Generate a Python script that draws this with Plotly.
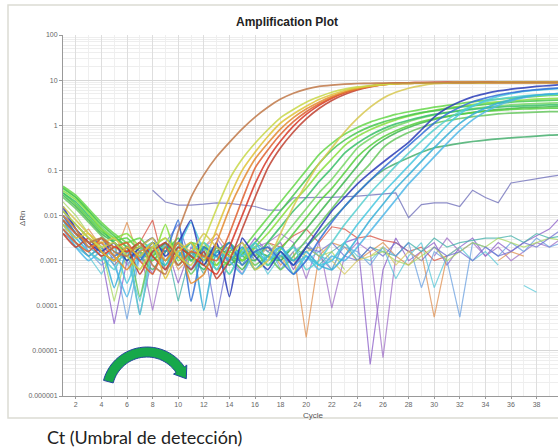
import math
import plotly.graph_objects as go

cycles = list(range(1, 41))

# ---- data: log10(ΔRn) per cycle (None = value not plotted) ----
# noise-only (negative) wells
neg_violet = [-1.85,-2.3,-2.7,-2.9,-4.4,-3.0,-2.8,-3.3,-2.6,-3.5,
              -2.7,-3.0,-2.6,-3.1,-2.9,-2.5,-2.8,-2.6,-3.2,-2.7,
              -2.9,-3.2,-2.6,-2.5,-5.3,-3.2,-2.5,-3.0,-2.8,-2.6,
              -3.1,-2.7,-2.5,-2.9,-2.6,-2.8,-2.6,-2.45,-2.3,-2.0]
neg_purple = [-2.0,-2.2,-2.5,-2.8,-2.6,-3.1,-2.7,-4.1,-2.8,-2.6,
              -3.2,-2.7,-2.5,-2.9,-3.3,-2.7,-2.6,-2.4,-2.6,-3.4,
              -2.6,-4.05,-2.9,-2.6,-2.8,-5.15,-2.9,-2.6,None,-2.9,
              -2.5,-2.8,-2.6,-2.9,-2.7,-3.0,-2.8,-2.6,-2.7,-2.5]
neg_orange = [-2.2,-2.5,-2.3,-2.7,-2.9,-2.15,-3.0,-2.8,-2.6,-3.2,
              -2.9,-2.7,-2.4,-2.8,-2.6,-2.9,-2.7,-3.1,-2.8,-4.7,
              -2.9,-2.6,-2.7,-3.0,-2.8,-2.6,-2.9,-3.1,-2.8,-4.25,
              -2.9,-2.7,None,None,-3.0,-2.8,-2.9,None,None,None]
neg_red = [-2.4,-2.6,-2.9,-2.7,-3.1,-2.8,-2.6,-2.1,-3.2,-2.8,
           -2.6,-2.9,-2.7,-3.0,-2.8,-2.9,-2.6,-2.7,-2.45,-2.3,
           -2.6,-2.25,-2.3,-2.5,-2.45,-2.55,-2.6,-2.8,-2.7,-3.0,
           -2.9,None,None,None,None,None,None,None,None,None]
neg_teal = [-2.0,-2.3,-2.6,-2.5,-2.8,-3.0,-2.7,-2.9,-2.6,-3.9,
            -2.8,-3.3,-2.7,-2.9,-3.1,-2.6,-2.8,-3.0,-2.7,-2.9,
            -3.1,-2.8,-2.6,-3.0,-2.7,-2.8,-2.9,-2.6,-2.8,-2.5,
            -2.7,-2.6,-2.55,-2.5,-2.5,-2.45,-2.6,-2.4,-2.5,-2.45]
neg_lightblue = [-2.1,-2.5,-2.8,-3.1,-2.9,-4.3,-2.9,-2.7,-3.0,-2.6,
                 -2.9,-2.6,-2.8,-3.0,-2.7,-2.9,-2.6,-3.2,-2.8,-2.6,
                 -2.9,-3.0,-2.7,-2.8,-3.1,-2.7,-2.9,-2.6,-3.6,-2.8,
                 -3.0,-4.25,-2.6,-2.7,-2.9,-2.6,-2.8,-2.5,-2.7,-2.6]
neg_cyan = [-2.2,-2.7,-2.9,-3.3,-2.8,-3.0,-3.9,-2.8,-3.1,-2.7,
            -3.0,-3.2,-2.9,-2.6,-3.0,-2.8,-3.3,-2.9,-2.7,-3.0,
            -2.8,-3.2,-2.6,-2.9,-3.0,-2.7,-3.4,-2.9,-2.6,-3.6,
            -2.9,-2.7,-3.0,-2.8,-3.1,None,-3.55,-3.7,None,None]
neg_lime = [-1.7,-2.0,-2.4,-2.7,-3.9,-2.8,-2.6,-3.0,-2.7,-2.9,
            -2.6,-3.0,-2.8,-2.7,-3.1,-2.9,-2.6,-2.8,-3.0,-2.7,
            -2.9,-2.8,-3.2,None,-2.9,-2.8,-3.0,-3.1,-2.9,-2.7,
            -3.0,-2.8,-2.6,-2.7,-2.5,-2.6,-2.7,-2.6,-2.5,-2.55]
neg_indigo = [-1.9,-2.3,-2.8,-2.6,-3.0,-2.7,-4.2,-2.9,-2.6,-2.2,
              -3.0,-2.7,-4.25,-2.8,-2.6,-3.0,-2.7,-2.9,-3.1,-2.7,
              -2.8,-2.6,-2.9,-3.0,-2.7,-2.9,-2.6,-2.8,-3.0,-2.7,
              -2.9,-2.8,-3.0,-2.7,-2.9,-2.8,-2.6,-2.7,-2.5,-2.3]
neg_yellow = [-2.3,-2.6,-2.8,-3.0,-2.7,-2.9,-3.2,-2.8,-3.0,-2.7,
              -2.9,-3.1,-2.8,-2.6,-2.9,-3.0,-2.7,-2.9,-3.3,-2.8,
              -2.7,-3.0,-3.3,-3.0,-2.9,-2.7,-3.1,-2.8,-3.0,None,
              None,None,None,None,None,None,None,None,None,None]
flat_purple = [None,None,None,None,None,None,None,-1.44,-1.7,-1.77,
               -1.77,-1.75,-1.72,-1.73,-1.76,-1.8,-1.88,-1.88,-1.61,-1.6,
               -1.6,-1.6,-1.59,-1.57,-1.55,-1.52,-1.5,-2.05,-1.76,-1.72,
               -1.72,-1.8,-1.44,-1.6,-1.72,-1.28,-1.23,-1.19,-1.14,-1.1]

# amplified wells
amp_brown = [-2.1,-2.4,-2.6,-2.5,-2.8,-2.9,-2.6,-3.1,-3.3,-2.35,
             -1.6,-1.1,-0.7,-0.38,-0.08,0.18,0.4,0.58,0.71,0.8,
             0.86,0.89,0.91,0.925,0.93,0.935,0.94,0.94,0.94,0.945,
             0.945,0.945,0.945,0.95,0.95,0.95,0.95,0.95,0.95,0.95]
amp_yellowgreen = [-1.9,-2.2,-2.5,-2.7,-2.6,-2.9,-3.2,-2.7,-2.5,-2.9,
                   -3.1,-2.55,-1.85,-1.2,-0.75,-0.4,-0.1,0.17,0.35,0.51,
                   0.63,0.73,0.8,0.85,0.88,0.905,0.92,0.93,0.935,0.94,
                   0.94,0.945,0.945,0.945,0.95,0.95,0.95,0.95,0.95,0.95]
amp_yellow = [-2.2,-2.5,-2.4,-2.8,-3.0,-2.7,-2.9,-2.6,-3.4,-2.8,
              -2.6,-3.0,-2.3,-1.6,-1.0,-0.6,-0.25,0.05,0.25,0.42,
              0.57,0.68,0.77,0.83,0.87,0.9,0.92,0.93,0.935,0.94,
              0.94,0.945,0.945,0.945,0.95,0.95,0.95,0.95,0.95,0.95]
amp_orange = [-2.0,-2.3,-2.7,-2.6,-2.9,-3.2,-2.8,-2.7,-3.0,-2.6,
              -3.5,-3.3,-2.6,-1.85,-1.25,-0.75,-0.4,-0.08,0.17,0.36,
              0.51,0.64,0.74,0.81,0.86,0.9,0.92,0.93,0.935,0.94,
              0.94,0.945,0.945,0.945,0.95,0.95,0.95,0.95,0.95,0.95]
amp_redorange = [-2.3,-2.6,-2.8,-2.5,-2.7,-2.6,-3.0,-3.3,-2.7,-3.1,
                 -2.8,-2.9,-3.0,-2.4,-1.65,-0.95,-0.55,-0.2,0.08,0.3,
                 0.47,0.61,0.72,0.8,0.86,0.9,0.92,0.93,0.94,0.94,
                 0.945,0.945,0.945,0.95,0.95,0.95,0.95,0.95,0.95,0.95]
amp_red = [-2.1,-2.4,-2.6,-2.9,-2.7,-2.8,-2.6,-2.9,-3.2,-2.7,
           -2.9,-3.1,-3.3,-2.7,-2.0,-1.3,-0.75,-0.35,-0.02,0.24,
           0.44,0.6,0.72,0.81,0.87,0.91,0.93,0.94,0.945,0.945,
           0.95,0.95,0.95,0.95,0.95,0.95,0.95,0.95,0.95,0.95]
amp_darkred = [-2.4,-2.7,-2.5,-2.8,-3.0,-2.7,-3.3,-2.8,-2.6,-2.9,
               -3.2,-2.8,-3.4,-3.0,-2.3,-1.6,-0.95,-0.5,-0.15,0.14,
               0.37,0.55,0.68,0.78,0.85,0.9,0.93,0.94,0.945,0.95,
               0.95,0.95,0.95,0.95,0.95,0.95,0.95,0.95,0.95,0.95]
amp_lateyellow = [-1.8,-2.1,-2.4,-2.6,-2.5,-2.8,-2.7,-2.5,-3.0,-2.6,
                  -2.8,-2.4,-2.7,-2.9,-2.6,-3.2,-3.0,-2.4,-1.8,-1.3,
                  -0.85,-0.5,-0.15,0.15,0.4,0.6,0.73,0.82,0.88,0.92,
                  0.94,0.945,0.95,0.95,0.95,0.95,0.95,0.95,0.95,0.95]
amp_green1 = [-1.35,-1.55,-1.85,-2.15,-2.4,-2.6,-2.5,-2.8,-2.7,-2.9,
              -2.6,-2.7,-3.2,-3.0,-2.75,-2.4,-2.05,-1.7,-1.35,-1.0,
              -0.65,-0.4,-0.2,-0.05,0.07,0.16,0.24,0.3,0.35,0.4,
              0.44,0.48,0.52,0.55,0.58,0.6,0.62,0.64,0.66,0.67]
amp_green2 = [-1.4,-1.6,-1.9,-2.2,-2.45,-2.7,-2.9,-2.6,-2.8,-2.5,
              -3.0,-2.7,-2.9,-3.1,-2.85,-2.6,-2.25,-1.9,-1.55,-1.2,
              -0.85,-0.55,-0.33,-0.16,-0.03,0.07,0.15,0.22,0.28,0.32,
              0.36,0.4,0.43,0.46,0.49,0.51,0.53,0.54,0.55,0.56]
amp_green3 = [-1.45,-1.65,-1.95,-2.3,-2.5,-2.4,-2.7,-2.9,-2.2,-3.0,
              -2.8,-2.6,-3.1,-2.8,-3.0,-2.7,-2.4,-2.05,-1.7,-1.4,
              -1.05,-0.75,-0.45,-0.25,-0.1,0.02,0.12,0.2,0.27,0.33,
              0.38,0.42,0.46,0.49,0.52,0.54,0.56,0.58,0.59,0.6]
amp_green4 = [-1.5,-1.7,-2.0,-2.3,-2.6,-2.8,-2.6,-2.9,-3.1,-2.7,
              -2.9,-3.2,-2.8,-2.6,-2.9,-3.0,-2.6,-2.25,-1.9,-1.6,
              -1.25,-0.95,-0.62,-0.4,-0.22,-0.08,0.03,0.11,0.18,0.24,
              0.28,0.32,0.35,0.38,0.4,0.42,0.43,0.44,0.45,0.45]
amp_green5 = [-1.38,-1.6,-1.9,-2.25,-2.5,-2.7,-2.9,-2.7,-2.5,-2.8,
              -3.0,-2.7,-2.9,-3.3,-2.8,-3.2,-2.9,-2.55,-2.2,-1.85,
              -1.5,-1.2,-0.85,-0.5,-0.3,-0.14,-0.02,0.08,0.16,0.23,
              0.28,0.33,0.37,0.4,0.43,0.45,0.47,0.48,0.49,0.5]
amp_green6 = [-1.5,-1.75,-2.05,-2.35,-2.55,-2.5,-2.8,-3.0,-2.7,-2.9,
              -2.6,-2.9,-3.1,-2.7,-3.0,-2.8,-3.1,-2.75,-2.4,-2.05,
              -1.7,-1.4,-1.05,-0.7,-0.45,-0.26,-0.12,-0.01,0.08,0.15,
              0.2,0.25,0.28,0.31,0.33,0.35,0.36,0.37,0.38,0.38]
amp_green7 = [-1.55,-1.8,-2.1,-2.4,-2.6,-2.8,-2.7,-2.9,-2.6,-3.1,
              -2.8,-3.0,-2.7,-2.9,-3.2,-2.8,-2.9,-3.0,-2.65,-2.3,
              -1.95,-1.6,-1.25,-0.9,-0.55,-0.33,-0.17,-0.05,0.05,0.13,
              0.19,0.24,0.28,0.32,0.35,0.37,0.39,0.4,0.41,0.42]
amp_green8 = [-1.6,-1.85,-2.15,-2.45,-2.7,-2.6,-3.8,-2.7,-3.0,-2.8,
              -3.3,-2.9,-2.7,-3.0,-2.8,-3.1,-2.9,-3.2,-2.9,-2.55,
              -2.2,-1.85,-1.5,-1.15,-0.85,-0.5,-0.3,-0.16,-0.05,0.04,
              0.1,0.15,0.19,0.22,0.25,0.27,0.28,0.29,0.3,0.3]
amp_lowgreen = [-1.9,-2.2,-2.5,-2.8,-3.0,-2.7,-2.9,-3.2,-2.8,-2.6,
                -2.9,-3.1,-2.7,-2.9,-3.0,-2.7,-3.1,-2.9,-3.0,-2.7,
                -2.4,-2.1,-1.8,-1.5,-1.22,-1.0,-0.85,-0.72,-0.6,-0.5,
                -0.45,-0.4,-0.36,-0.33,-0.3,-0.28,-0.26,-0.24,-0.22,-0.21]
amp_darkblue = [-1.8,-2.3,-2.6,-2.8,-2.6,-3.0,-2.7,-2.5,-2.9,-2.6,
                -2.1,-3.1,-2.6,-3.8,-2.5,-2.9,-3.2,-2.8,-3.1,-2.7,
                -2.3,-1.9,-1.6,-1.3,-1.05,-0.82,-0.6,-0.38,-0.1,0.18,
                0.38,0.52,0.63,0.7,0.76,0.8,0.83,0.86,0.88,0.9]
amp_blue = [-2.0,-2.4,-2.7,-2.5,-2.9,-2.7,-3.0,-2.6,-2.8,-2.1,
            -3.9,-2.7,-2.9,-2.6,-3.1,-2.8,-2.7,-3.0,-3.3,-3.0,
            -2.55,-2.15,-1.8,-1.5,-1.22,-0.95,-0.7,-0.45,-0.2,0.05,
            0.25,0.4,0.52,0.6,0.67,0.72,0.76,0.79,0.81,0.83]
amp_cyan1 = [-2.2,-2.5,-2.8,-3.0,-2.7,-3.5,-2.8,-2.6,-3.1,-2.7,
             -2.15,-2.8,-3.2,-2.7,-2.9,-2.6,-3.0,-2.8,-3.3,-2.9,
             -3.1,-3.0,-2.6,-2.2,-1.85,-1.5,-1.2,-0.9,-0.6,-0.3,
             0.0,0.25,0.42,0.55,0.64,0.7,0.75,0.78,0.8,0.82]
amp_cyan2 = [-2.1,-2.6,-2.9,-2.7,-3.6,-2.8,-3.0,-2.7,-3.2,-2.9,
             -2.6,-4.1,-2.8,-3.0,-2.7,-3.2,-2.9,-2.7,-3.0,-2.8,
             -3.1,-3.2,-2.9,-2.5,-2.1,-1.75,-1.4,-1.1,-0.8,-0.5,
             -0.22,0.04,0.24,0.38,0.49,0.57,0.63,0.67,0.69,0.71]
amp_cyan3 = [-2.0,-2.4,-2.7,-2.9,-3.2,-2.7,-4.2,-2.8,-2.7,-3.1,
             -2.8,-2.6,-2.9,-3.3,-2.8,-2.7,-3.1,-2.9,-2.7,-3.2,
             -3.0,-2.6,-2.2,-1.85,-1.5,-1.2,-0.9,-0.62,-0.35,-0.1,
             0.12,0.3,0.43,0.52,0.58,0.62,0.65,0.67,0.68,0.69]
amp_cyan4 = [-2.3,-2.7,-3.0,-2.8,-3.1,-3.8,-2.9,-2.7,-3.0,-2.8,
             -3.2,-2.9,-2.7,-3.0,-3.3,-2.8,-3.0,-2.7,-3.1,-2.9,
             -3.2,-2.9,-3.0,-2.7,-2.35,-2.0,-1.65,-1.3,-1.0,-0.7,
             -0.4,-0.12,0.12,0.3,0.44,0.54,0.61,0.66,0.69,0.71]

y_tickvals = [1e2, 1e1, 1, 1e-1, 1e-2, 1e-3, 1e-4, 1e-5, 1e-6]
y_ticktext = ["100", "10", "1", "0.1", "0.01", "0.001", "0.0001", "0.00001", "0.000001"]
x_tickvals = list(range(2, 40, 2))

noise_series = [
    (neg_violet, "#8a5cc8"), (neg_purple, "#a070c8"), (neg_orange, "#e09050"),
    (neg_red, "#d85040"), (neg_teal, "#40b0a8"), (neg_lightblue, "#6aa0e0"),
    (neg_cyan, "#58c8d8"), (neg_lime, "#a8d860"), (neg_indigo, "#7070d0"),
    (neg_yellow, "#d8c860"), (flat_purple, "#6a6ab8"),
]
amp_series = [
    (amp_lowgreen, "#48b070"), (amp_green8, "#68c860"), (amp_green7, "#40b850"),
    (amp_green6, "#58d040"), (amp_green5, "#78d868"), (amp_green4, "#38c068"),
    (amp_green3, "#88e040"), (amp_green2, "#48c850"), (amp_green1, "#66d84a"),
    (amp_cyan4, "#50b8e8"), (amp_cyan3, "#58d0d0"), (amp_cyan2, "#38b0d8"),
    (amp_cyan1, "#48c8e0"), (amp_blue, "#3470d8"), (amp_darkblue, "#2a3cb8"),
    (amp_lateyellow, "#d8c850"), (amp_darkred, "#c04030"), (amp_red, "#d83828"),
    (amp_redorange, "#e06030"), (amp_orange, "#e48a30"), (amp_yellow, "#e0c438"),
    (amp_yellowgreen, "#c8d848"), (amp_brown, "#c07848"),
]

fig = go.Figure()
for vals, col in noise_series:
    assert len(vals) == 40
    fig.add_trace(go.Scatter(x=cycles, y=[None if v is None else 10 ** v for v in vals],
                             mode="lines", line=dict(color=col, width=1.2),
                             opacity=0.75, hoverinfo="skip", showlegend=False))
for vals, col in amp_series:
    assert len(vals) == 40
    fig.add_trace(go.Scatter(x=cycles, y=[None if v is None else 10 ** v for v in vals],
                             mode="lines", line=dict(color=col, width=1.7, shape="spline", smoothing=0.4),
                             opacity=0.85, hoverinfo="skip", showlegend=False))

W, H = 558, 448
L, R, T, B = 63, 0, 35, 52
pw, ph = W - L - R, H - T - B

def px(xp):
    return (xp - L) / pw

def py(yp):
    return (H - B - yp) / ph

# curved green arrow (decoration)
cx, cy, ro, ri = 147, 392, 45, 35
pts = []
for i in range(31):
    a = math.radians(165 - (165 - 34) * i / 30)
    pts.append((cx + ro * math.cos(a), cy - ro * math.sin(a)))
a = math.radians(34)
pts.append((cx + (ro + 3) * math.cos(a), cy - (ro + 3) * math.sin(a)))
rm = (ro + ri) / 2
pts.append((cx + rm * math.cos(a) + 11 * math.sin(a), cy - rm * math.sin(a) + 11 * math.cos(a)))
pts.append((cx + (ri - 3) * math.cos(a), cy - (ri - 3) * math.sin(a)))
for i in range(31):
    a2 = math.radians(34 + (165 - 34) * i / 30)
    pts.append((cx + ri * math.cos(a2), cy - ri * math.sin(a2)))
path = "M " + " L ".join(f"{px(x):.4f},{py(y):.4f}" for x, y in pts) + " Z"

shapes = [
    dict(type="rect", xref="paper", yref="paper", x0=px(8), x1=px(600), y0=py(418), y1=py(5),
         line=dict(color="#dcdcd4", width=1.5), fillcolor="rgba(0,0,0,0)", layer="below"),
    dict(type="path", xref="paper", yref="paper", path=path, fillcolor="#17a84b",
         line=dict(color="#24469e", width=1)),
]

annotations = [
    dict(text="<b>Amplification Plot</b>", xref="paper", yref="paper", x=px(287), y=py(22),
         xanchor="center", yanchor="middle", showarrow=False,
         font=dict(family="Liberation Sans, Arial", size=12, color="#222")),
    dict(text="ΔRn", xref="paper", yref="paper", x=px(22), y=py(218), textangle=-90,
         xanchor="center", yanchor="middle", showarrow=False,
         font=dict(family="Liberation Sans, Arial", size=8, color="#555")),
    dict(text="Cycle", xref="paper", yref="paper", x=px(313), y=py(415),
         xanchor="center", yanchor="middle", showarrow=False,
         font=dict(family="Liberation Sans, Arial", size=8, color="#555")),
    dict(text="Ct (Umbral de detección)", xref="paper", yref="paper", x=px(45), y=py(437),
         xanchor="left", yanchor="middle", showarrow=False,
         font=dict(family="Lato, Open Sans", size=18, color="#222")),
]

fig.update_layout(
    width=W, height=H, margin=dict(l=L, r=R, t=T, b=B),
    paper_bgcolor="white", plot_bgcolor="white",
    shapes=shapes, annotations=annotations, showlegend=False,
    xaxis=dict(range=[1, 1 + pw / 12.8], tickvals=x_tickvals, ticks="outside", ticklen=2,
               tickcolor="#999", tickfont=dict(size=7, color="#666", family="Liberation Sans"),
               showgrid=True, gridcolor="#dedede", gridwidth=1,
               minor=dict(dtick=1, showgrid=True, gridcolor="#efefef"),
               showline=True, linecolor="#999", linewidth=1, zeroline=False, fixedrange=True),
    yaxis=dict(type="log", range=[-6, 2], tickvals=y_tickvals, ticktext=y_ticktext,
               ticks="outside", ticklen=3, tickcolor="#999",
               tickfont=dict(size=7, color="#666", family="Liberation Sans"),
               showgrid=True, gridcolor="#d8d8d8", gridwidth=1,
               minor=dict(dtick="D1", showgrid=True, gridcolor="#eeeeee"),
               showline=True, linecolor="#999", linewidth=1, zeroline=False, fixedrange=True),
)

fig.write_html("out.html")
